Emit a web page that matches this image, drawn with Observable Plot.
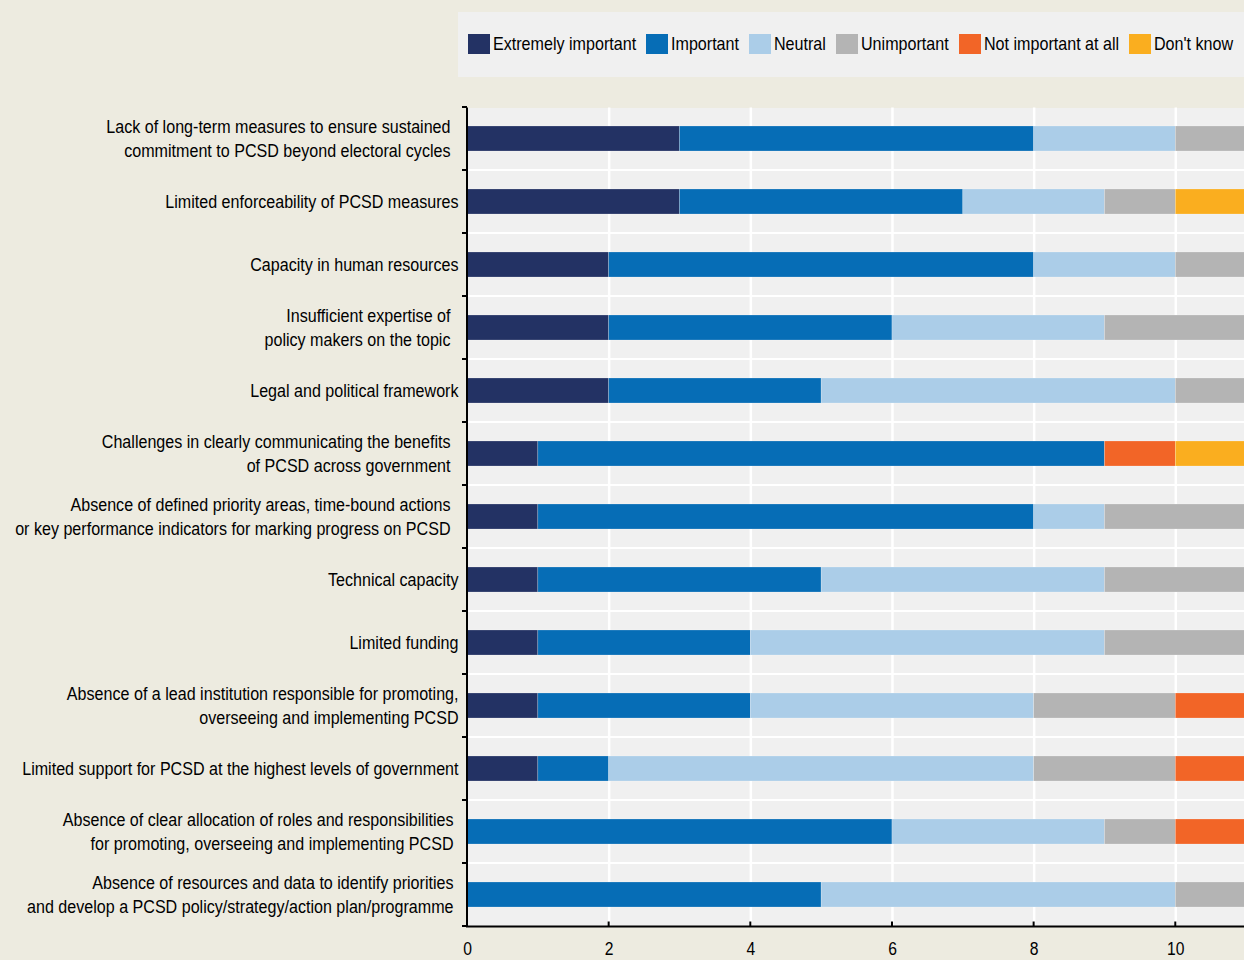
<!DOCTYPE html>
<html>
<head>
<meta charset="utf-8">
<script src="https://cdn.jsdelivr.net/npm/d3@7"></script>
<script src="https://cdn.jsdelivr.net/npm/@observablehq/plot@0.6"></script>
<style>
  html, body { margin: 0; padding: 0; background: #edebe0; width: 1244px; height: 960px; overflow: hidden; }
  body { position: relative; font-family: "Liberation Sans", Arial, sans-serif; }
  #legend { position: absolute; left: 458px; top: 12px; width: 786px; height: 65px; background: #f0f0f0;
            display: flex; align-items: center; padding-left: 10px; padding-bottom: 2px; box-sizing: border-box;
            font-size: 18.5px; color: #000; white-space: nowrap; }
  .item { display: flex; align-items: center; margin-right: 10px; }
  .sw { width: 22px; height: 20px; margin-right: 3px; flex: none; }
  .item span { display: inline-block; transform-origin: left center; }
  #chart { position: absolute; left: 0; top: 90px; }
</style>
</head>
<body>
<div id="legend"></div>
<div id="chart"></div>
<script>
const categories = [
  "Lack of long-term measures to ensure sustained\ncommitment to PCSD beyond electoral cycles",
  "Limited enforceability of PCSD measures",
  "Capacity in human resources",
  "Insufficient expertise of\npolicy makers on the topic",
  "Legal and political framework",
  "Challenges in clearly communicating the benefits\nof PCSD across government",
  "Absence of defined priority areas, time-bound actions\nor key performance indicators for marking progress on PCSD",
  "Technical capacity",
  "Limited funding",
  "Absence of a lead institution responsible for promoting,\noverseeing and implementing PCSD",
  "Limited support for PCSD at the highest levels of government",
  "Absence of clear allocation of roles and responsibilities\nfor promoting, overseeing and implementing PCSD",
  "Absence of resources and data to identify priorities\nand develop a PCSD policy/strategy/action plan/programme"
];
const seriesNames = ["Extremely important", "Important", "Neutral", "Unimportant", "Not important at all", "Don't know"];
const seriesColors = ["#233264", "#066db6", "#abcde8", "#b4b4b4", "#f26527", "#faae1f"];
const extremelyImportant = [3, 3, 2, 2, 2, 1, 1, 1, 1, 1, 1, 0, 0];
const important          = [5, 4, 6, 4, 3, 8, 7, 4, 3, 3, 1, 6, 5];
const neutral            = [2, 2, 2, 3, 5, 0, 1, 4, 5, 4, 6, 3, 5];
const unimportant        = [1, 1, 1, 2, 1, 0, 2, 2, 2, 2, 2, 1, 1];
const notImportantAtAll  = [0, 0, 0, 0, 0, 1, 0, 0, 0, 1, 1, 1, 0];
const dontKnow           = [0, 1, 0, 0, 0, 1, 0, 0, 0, 0, 0, 0, 0];
const xTicks = [0, 2, 4, 6, 8, 10];

const NARROW = 0.87;
const seriesValues = [extremelyImportant, important, neutral, unimportant, notImportantAtAll, dontKnow];
const table = [];
categories.forEach((c, i) => {
  seriesNames.forEach((s, j) => {
    table.push({label: c, series: s, value: seriesValues[j][i]});
  });
});

// Legend
const legend = document.getElementById("legend");
const spans = [];
seriesNames.forEach((s, j) => {
  const it = document.createElement("div");
  it.className = "item";
  const sw = document.createElement("div");
  sw.className = "sw";
  sw.style.background = seriesColors[j];
  const t = document.createElement("span");
  t.textContent = s;
  t.style.transform = `scaleX(${NARROW})`;
  it.appendChild(sw); it.appendChild(t);
  legend.appendChild(it);
  spans.push(t);
});
spans.forEach(t => { t.style.marginRight = (-(1 - NARROW) * t.offsetWidth) + "px"; });

const FONT = '"Liberation Sans", Arial, sans-serif';
const singles = categories.filter(c => !c.includes("\n"));
const multiNear = [categories[9]];
const multiMid = [categories[11], categories[12]];
const multiFar = categories.filter(c => c.includes("\n") && !multiNear.includes(c) && !multiMid.includes(c));

function bandBounds(y) {
  const bw = y.bandwidth(), step = y.step();
  const b = categories.map(c => y(c) + bw / 2 - step / 2);
  b.push(y(categories[categories.length - 1]) + bw / 2 + step / 2);
  return b;
}
function svgLine(g, xa, ya, xb, yb, stroke, sw) {
  const l = document.createElementNS("http://www.w3.org/2000/svg", "line");
  l.setAttribute("x1", xa); l.setAttribute("y1", ya);
  l.setAttribute("x2", xb); l.setAttribute("y2", yb);
  l.setAttribute("stroke", stroke); l.setAttribute("stroke-width", sw);
  g.appendChild(l);
}
// band separators (white)
function separators(index, scales, values, dims) {
  const g = document.createElementNS("http://www.w3.org/2000/svg", "g");
  const x0 = dims.marginLeft, x1 = dims.width - dims.marginRight;
  const b = bandBounds(scales.y);
  b.forEach((v, i) => { if (i > 0 && i < b.length - 1) svgLine(g, x0, v, x1, v, "#ffffff", 2); });
  return g;
}
// axis lines with outward y ticks and inward x ticks
function axes(index, scales, values, dims) {
  const g = document.createElementNS("http://www.w3.org/2000/svg", "g");
  const x0 = dims.marginLeft, x1 = dims.width - dims.marginRight;
  const yTop = dims.marginTop, yBot = dims.height - dims.marginBottom;
  svgLine(g, x0, yTop, x0, yBot, "#000", 2);
  svgLine(g, x0 - 1, yBot, x1, yBot, "#000", 2);
  bandBounds(scales.y).forEach(v => svgLine(g, x0 - 5, v, x0, v, "#000", 2));
  xTicks.forEach(t => svgLine(g, scales.x(t), yBot, scales.x(t), yBot - 5, "#000", 2));
  return g;
}

const yAxisOpts = {tickSize: 0, fontSize: 18.5, lineHeight: 1.3, dy: -1.5, label: null};
const chart = Plot.plot({
  width: 1244,
  height: 870,
  marginLeft: 467,
  marginRight: 0,
  marginTop: 17.5,
  marginBottom: 33.5,
  style: {background: "transparent", fontFamily: FONT, color: "#000", overflow: "hidden"},
  x: {domain: [0, 10.97], label: null},
  y: {domain: categories, paddingInner: 0.6, paddingOuter: 0.3, label: null},
  color: {domain: seriesNames, range: seriesColors},
  marks: [
    Plot.frame({fill: "#f0f0f0", stroke: null}),
    Plot.gridX({ticks: xTicks.slice(1), stroke: "#ffffff", strokeOpacity: 1, strokeWidth: 2.5}),
    separators,
    Plot.barX(table, Plot.stackX({x: "value", y: "label", fill: "series", order: seriesNames, stroke: "#ffffff", strokeOpacity: 0.35, strokeWidth: 0.6})),
    axes,
    Plot.axisX({ticks: xTicks, tickSize: 0, tickPadding: 15, fontSize: 18, tickFormat: d => String(d), label: null}),
    Plot.axisY(singles.concat(multiNear), {...yAxisOpts, tickPadding: 9}),
    Plot.axisY(multiMid, {...yAxisOpts, tickPadding: 14}),
    Plot.axisY(multiFar, {...yAxisOpts, tickPadding: 17})
  ]
});
// condense axis text horizontally (Arial Narrow look)
chart.querySelectorAll('g[aria-label="y-axis tick label"] text, g[aria-label="x-axis tick label"] text').forEach(t => {
  const tr = t.getAttribute("transform");
  if (tr) {
    t.setAttribute("transform", tr + ` scale(${NARROW},1)`);
  } else {
    const x = +t.getAttribute("x") || 0, y = +t.getAttribute("y") || 0;
    t.removeAttribute("x"); t.removeAttribute("y");
    t.setAttribute("transform", `translate(${x},${y}) scale(${NARROW},1)`);
  }
});
document.getElementById("chart").appendChild(chart);
</script>
</body>
</html>
